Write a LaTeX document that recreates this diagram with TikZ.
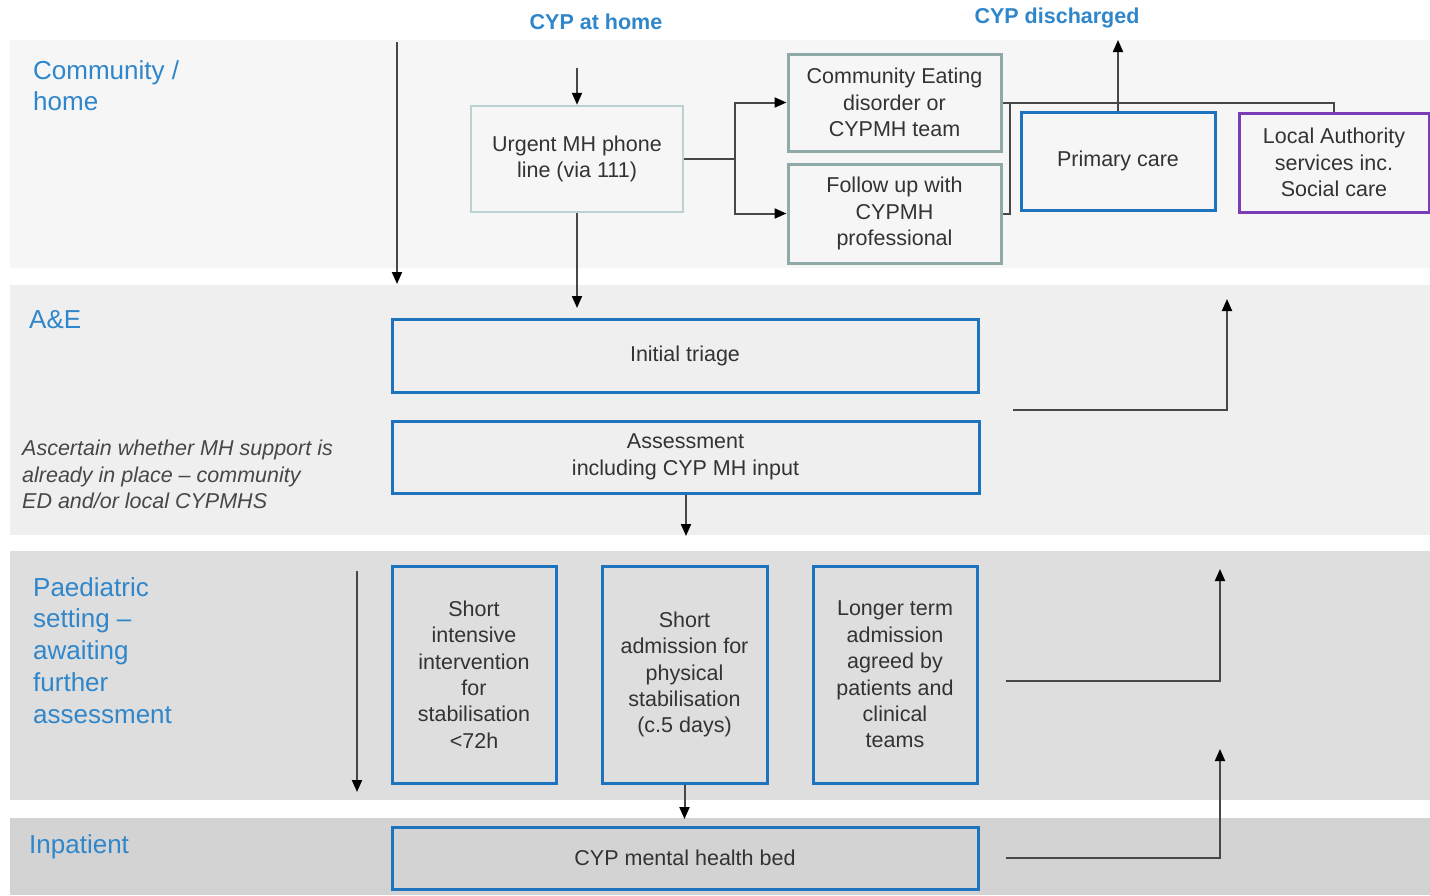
\documentclass[tikz,border=0pt]{standalone}
\usepackage{fontspec}
\setmainfont{Liberation Sans}
\usetikzlibrary{arrows.meta}
\definecolor{lblblue}{HTML}{2F86CA}
\definecolor{boxblue}{HTML}{1E73BE}
\definecolor{tealgray}{HTML}{8FA8A8}
\definecolor{lightteal}{HTML}{BCD2D2}
\definecolor{lapurple}{HTML}{7B3DB6}
\definecolor{txtgray}{HTML}{333333}
\definecolor{linegray}{HTML}{474747}
\definecolor{bandA}{HTML}{F6F6F6}
\definecolor{bandB}{HTML}{EFEFEF}
\definecolor{bandC}{HTML}{DEDEDE}
\definecolor{bandD}{HTML}{D3D3D3}
\tikzset{
  bodyfont/.style={font=\fontsize{21.5}{26.4}\selectfont, text=txtgray},
  box/.style={bodyfont, draw=boxblue, line width=3pt, align=center, inner sep=2pt},
  tealbox/.style={box, draw=tealgray},
  lightbox/.style={box, draw=lightteal, line width=2.5pt},
  purplebox/.style={box, draw=lapurple},
  lanelabel/.style={font=\fontsize{26}{31.8}\selectfont, text=lblblue, align=left, anchor=north west, inner sep=0pt},
  toplabel/.style={font=\fontsize{21.5}{26}\selectfont\bfseries, text=lblblue, inner sep=0pt},
  conn/.style={draw=linegray, line width=2pt},
  arr/.style={conn, -{Triangle[length=12pt,width=10pt,color=black]}},
}
\begin{document}
\begin{tikzpicture}[x=1pt,y=-1pt]
\useasboundingbox (0,0) rectangle (1430,895);
\fill[white] (0,0) rectangle (1430,895);
% bands
\fill[bandA] (10,40) rectangle (1430,268);
\fill[bandB] (10,285) rectangle (1430,535);
\fill[bandC] (10,551) rectangle (1430,800);
\fill[bandD] (10,818) rectangle (1430,895);

% lane labels
\node[lanelabel] (lcomm) at (33,60) {Community /\\home};
\node[lanelabel] (lae) at (29,310) {A\&E};
\node[lanelabel] (lpaed) at (33,577) {Paediatric\\setting –\\awaiting\\further\\assessment};
\node[lanelabel] (linp) at (29,834) {Inpatient};
\node[bodyfont, font=\fontsize{21.5}{26.4}\selectfont\itshape, text=linegray, align=left, anchor=north west, inner sep=0pt] (note) at (22,440)
  {Ascertain whether MH support is\\already in place – community\\ED and/or local CYPMHS};

% top labels
\node[toplabel] (home) at (596,22) {CYP at home};
\node[toplabel] (disch) at (1057,18) {CYP discharged};

% boxes
\node[lightbox, minimum width=212pt, minimum height=106pt] (urgent) at (577,159) {Urgent MH phone\\line (via 111)};
\node[tealbox, minimum width=213pt, minimum height=97pt] (ce) at (894.5,102.5) {Community Eating\\disorder or\\CYPMH team};
\node[tealbox, minimum width=213pt, minimum height=99pt] (fu) at (894.5,213.5) {Follow up with\\CYPMH\\professional};
\node[box, minimum width=194pt, minimum height=98pt] (pc) at (1118,161) {Primary care};
\node[purplebox, minimum width=190pt, minimum height=99pt] (la) at (1334,162.5) {Local Authority\\services inc.\\Social care};

\node[box, minimum width=586pt, minimum height=73pt] (triage) at (685,355.5) {Initial triage};
\node[box, minimum width=587pt, minimum height=72pt] (assess) at (685.5,457) {Assessment\\including CYP MH input};

\node[box, minimum width=164pt, minimum height=217pt] (p1) at (474,674.5) {Short\\intensive\\intervention\\for\\stabilisation\\<72h};
\node[box, minimum width=165pt, minimum height=217pt] (p2) at (684.5,674.5) {Short\\admission for\\physical\\stabilisation\\(c.5 days)};
\node[box, minimum width=164pt, minimum height=217pt] (p3) at (895,674.5) {Longer term\\admission\\agreed by\\patients and\\clinical\\teams};

\node[box, minimum width=586pt, minimum height=62pt] (bed) at (685,858) {CYP mental health bed};

% coordinates
\coordinate (c1a) at (397,42);
\coordinate (c1b) at (397,284);
\coordinate (homeA) at (577,68);
\coordinate (trT) at (577,308);
\coordinate (split) at (735,159);
\coordinate (jn) at (1010,102.5);
\coordinate (laT) at (1334,102.5);
\coordinate (dischTip) at (1118,40);
\coordinate (aeS) at (1013,410);
\coordinate (aeC) at (1227,410);
\coordinate (aeT) at (1227,299);
\coordinate (asT) at (686,536);
\coordinate (pdA) at (357,571);
\coordinate (pdB) at (357,792);
\coordinate (p2T) at (684.5,819);
\coordinate (ptS) at (1006,681);
\coordinate (ptC) at (1220,681);
\coordinate (ptT) at (1220,569);
\coordinate (bdS) at (1006,858);
\coordinate (bdC) at (1220,858);
\coordinate (bdT) at (1220,749);

% connectors
\draw[arr] (c1a) -- (c1b);
\draw[arr] (homeA) -- (urgent.north);
\draw[arr] (urgent.south) -- (trT);
\draw[conn] (urgent.east) -- (split);
\draw[arr] (split) |- (ce.west);
\draw[arr] (split) |- (fu.west);
\draw[conn] (ce.east) -- (laT) -- (la.north);
\draw[conn] (fu.east) -| (jn);
\draw[arr] (pc.north) -- (dischTip);
\draw[arr] (aeS) -- (aeC) -- (aeT);
\draw[arr] (assess.south -| asT) -- (asT);
\draw[arr] (pdA) -- (pdB);
\draw[arr] (p2.south) -- (p2T);
\draw[arr] (ptS) -- (ptC) -- (ptT);
\draw[arr] (bdS) -- (bdC) -- (bdT);
\end{tikzpicture}
\end{document}
